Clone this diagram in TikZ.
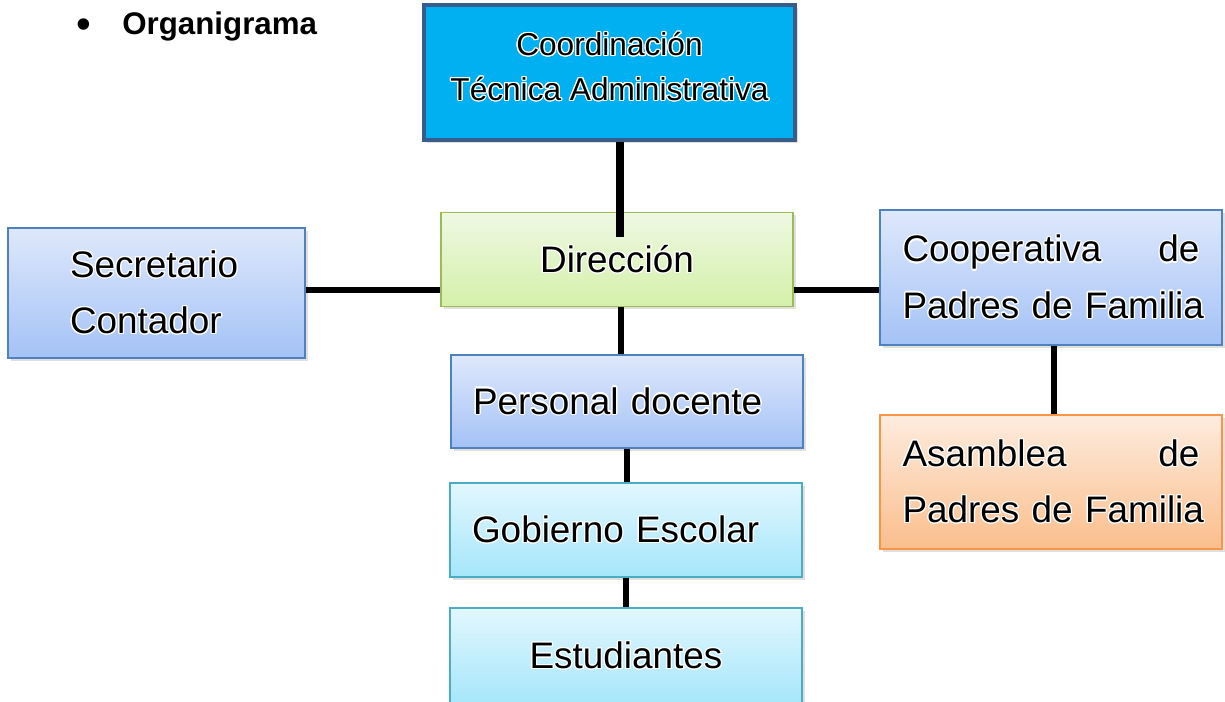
\documentclass[tikz,border=0pt]{standalone}
\usepackage{fontspec}
\setmainfont{Liberation Sans}
\usepackage{contour}
\contourlength{0.7pt}
\usetikzlibrary{shadows}
\newcommand{\glow}[1]{\contour{white}{#1}}

\definecolor{coordfill}{RGB}{0,176,240}
\definecolor{coordline}{RGB}{56,93,138}
\definecolor{bluetop}{RGB}{222,232,251}
\definecolor{bluebot}{RGB}{164,194,246}
\definecolor{blueline}{RGB}{79,129,189}
\definecolor{greentop}{RGB}{238,248,226}
\definecolor{greenbot}{RGB}{212,240,170}
\definecolor{greenline}{RGB}{155,187,89}
\definecolor{orangetop}{RGB}{253,236,222}
\definecolor{orangebot}{RGB}{250,190,140}
\definecolor{orangeline}{RGB}{247,150,70}
\definecolor{cyantop}{RGB}{226,247,254}
\definecolor{cyanbot}{RGB}{165,230,250}
\definecolor{cyanline}{RGB}{75,172,198}

\begin{document}
\begin{tikzpicture}[x=0.02cm,y=-0.02cm]
% Styles
\tikzstyle{caja}=[draw,inner sep=0pt,line width=0.9pt,
  drop shadow={opacity=0.25,shadow xshift=1.5pt,shadow yshift=-1.5pt},
  font=\fontsize{21}{32}\selectfont]
\tikzstyle{azul}=[caja,draw=blueline,top color=bluetop,bottom color=bluebot]
\tikzstyle{verde}=[caja,draw=greenline,top color=greentop,bottom color=greenbot]
\tikzstyle{naranja}=[caja,draw=orangeline,top color=orangetop,bottom color=orangebot]
\tikzstyle{celeste}=[caja,draw=cyanline,top color=cyantop,bottom color=cyanbot]
\tikzstyle{linea}=[line width=3.4pt,black]

\useasboundingbox (0,0) rectangle (1225,702);

% title
\node (bullet) at (84,29) {\fontsize{24}{24}\selectfont\textbullet};
\node[anchor=base west,inner sep=0pt] (titulo) at (122,35) {\fontsize{17.8}{20}\selectfont\bfseries Organigrama};

% draw the nodes
\node[draw=coordline,line width=1.8pt,fill=coordfill,inner sep=0pt,
  minimum width=7.42cm,minimum height=2.7cm,align=center,
  font=\fontsize{18}{25.5}\selectfont,
  drop shadow={opacity=0.25,shadow xshift=1.5pt,shadow yshift=-1.5pt}]
  (coord) at (609.5,72.5) {\glow{Coordinación}\\\glow{Técnica Administrativa}\\[-18.5pt]};

\node[verde,minimum width=7.04cm,minimum height=1.88cm] (dir) at (617,259.5) {\glow{Dirección}};

\node[azul,minimum width=5.94cm,minimum height=2.6cm,text width=3.46cm,align=left]
  (sec) at (156.5,293) {\glow{Secretario}\\\glow{Contador}};

\node[azul,minimum width=6.84cm,minimum height=2.7cm,text width=5.94cm,align=left]
  (coop) at (1051,277.5) {\glow{Cooperativa}\hfill\glow{de}\\\glow{Padres de Familia}};

\node[naranja,minimum width=6.84cm,minimum height=2.68cm,text width=5.94cm,align=left]
  (asam) at (1051,482) {\glow{Asamblea}\hfill\glow{de}\\\glow{Padres de Familia}};

\node[azul,minimum width=7.04cm,minimum height=1.86cm,text width=6.16cm,align=left]
  (pers) at (627,401.5) {\glow{Personal docente}};

\node[celeste,minimum width=7.04cm,minimum height=1.88cm,text width=6.16cm,align=left]
  (gob) at (626,530) {\glow{Gobierno Escolar}};

\node[celeste,minimum width=7.04cm,minimum height=1.92cm] (est) at (626,656) {\glow{Estudiantes}};

% connectors
\coordinate (hl) at (0,290);
\coordinate (cfin) at (620,237);
\draw[linea,line width=4.2pt] (coord.south -| cfin) -- (cfin);
\draw[linea] (sec.east |- hl) -- (dir.west |- hl);
\draw[linea] (dir.east |- hl) -- (coop.west |- hl);
\draw[linea] (dir.south -| 621,0) -- (pers.north -| 621,0);
\draw[linea] (pers.south) -- (pers.south |- gob.north);
\draw[linea] (gob.south) -- (est.north);
\draw[linea] (coop.south -| 1054,0) -- (asam.north -| 1054,0);

\end{tikzpicture}
\end{document}
